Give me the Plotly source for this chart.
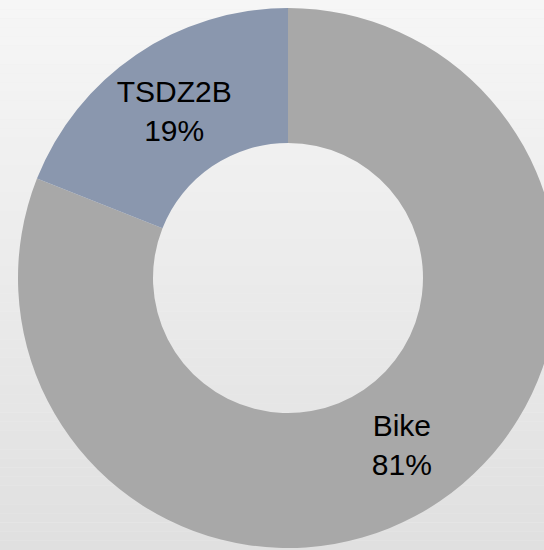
import plotly.graph_objects as go

labels = ["Bike", "TSDZ2B"]
values = [81, 19]
colors = ["#a8a8a8", "#8a97ae"]

W, H = 576, 550
fig = go.Figure(go.Pie(
    labels=labels,
    values=values,
    hole=0.5,
    sort=False,
    direction="clockwise",
    rotation=0,
    marker=dict(colors=colors, line=dict(width=0)),
    texttemplate="%{label}<br>%{percent:.0%}",
    textposition="inside",
    insidetextorientation="horizontal",
    textfont=dict(family="Liberation Sans, Arial", size=30, color="#000000"),
    domain=dict(x=[0, 1], y=[2 / 550, 542 / 550]),
    showlegend=False,
    hoverinfo="skip",
))

# vertical background gradient
top = (246, 246, 246)
bot = (224, 224, 224)
n = 60
shapes = []
for i in range(n):
    t = i / (n - 1)
    c = tuple(round(top[k] + (bot[k] - top[k]) * t) for k in range(3))
    shapes.append(dict(
        type="rect", xref="paper", yref="paper",
        x0=0, x1=1, y0=1 - (i + 1) / n, y1=1 - i / n,
        fillcolor="rgb(%d,%d,%d)" % c, line=dict(width=0), layer="below",
    ))

fig.update_layout(
    width=W, height=H,
    margin=dict(l=0, r=0, t=0, b=0),
    paper_bgcolor="#eeeeee",
    plot_bgcolor="rgba(0,0,0,0)",
    shapes=shapes,
    uniformtext=dict(minsize=30, mode="show"),
)

fig.write_html(
    "out.html",
    config={"displayModeBar": False},
    post_script="document.body.style.margin='0';document.body.style.overflow='hidden';document.documentElement.style.overflow='hidden';",
)
